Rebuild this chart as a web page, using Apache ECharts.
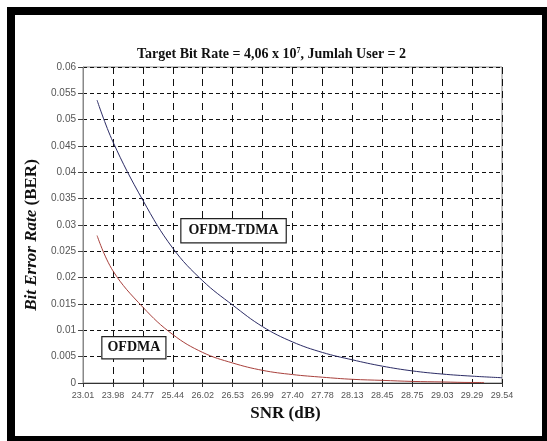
<!DOCTYPE html>
<html>
<head>
<meta charset="utf-8">
<script src="https://cdn.jsdelivr.net/npm/echarts@6/dist/echarts.min.js"></script>
<style>
html,body{margin:0;padding:0;background:#fff;}
#c{width:547px;height:441px;}
</style>
</head>
<body>
<div id="c"></div>
<script>
// Tick labels on the SNR axis (evenly spaced positions 0..14)
var snrLabels = ['23.01','23.98','24.77','25.44','26.02','26.53','26.99','27.40','27.78','28.13','28.45','28.75','29.03','29.29','29.54'];
// Position along the SNR axis (tick index) for each read point
var posOfdmTdma = [0.47, 1, 2, 3, 4, 5, 6, 7, 8, 9, 10, 11, 12, 13, 14];
var berOfdmTdma = [0.0537, 0.0458, 0.0347, 0.0256, 0.0194, 0.0148, 0.0107, 0.0078, 0.0058, 0.0044, 0.0032, 0.0023, 0.0017, 0.0013, 0.0010];
var posOfdma = [0.47, 1, 2, 3, 4, 5, 6, 7, 8, 9, 10, 11, 12, 13, 13.4];
var berOfdma = [0.0280, 0.0213, 0.0144, 0.0092, 0.0058, 0.0038, 0.0024, 0.0016, 0.0011, 0.0007, 0.0005, 0.0003, 0.0002, 0.0001, 0.0001];
// Annotation anchors [position, BER]
var tagOfdmTdma = [5.03, 0.0289];
var tagOfdma = [1.70, 0.0067];

function zip(a, b){ return a.map(function(v, i){ return [v, b[i]]; }); }

var chart = echarts.init(document.getElementById('c'), null, {renderer:'canvas'});
var serif = '"Liberation Serif","Times New Roman",serif';
var sans = '"Liberation Sans",Arial,sans-serif';

var boxLabel = function(text, pad){
  return {
    show: true, position: 'inside', formatter: text,
    fontFamily: serif, fontWeight: 'bold', fontSize: 14, color: '#111',
    backgroundColor: '#fff', borderColor: '#222', borderWidth: 1.2, padding: pad
  };
};

chart.setOption({
  animation: false,
  backgroundColor: 'transparent',
  graphic: [
    {type:'rect', z:-100, silent:true, shape:{x:7, y:7, width:540, height:434}, style:{fill:'#000'}},
    {type:'rect', z:-99, silent:true, shape:{x:15, y:15, width:527, height:421}, style:{fill:'#fff'}}
  ],
  title: {
    text: 'Target Bit Rate = 4,06 x 10{sup|7}, Jumlah User = 2',
    left: 132, top: 42,
    textStyle: {
      fontFamily: serif, fontWeight: 'bold', fontSize: 14, color: '#111',
      rich: { sup: { fontFamily: serif, fontWeight: 'bold', fontSize: 8, color: '#111', verticalAlign: 'top', padding:[0,0,6,0] } }
    }
  },
  grid: { left: 83, right: 45, top: 67, bottom: 58, show: true, borderColor: '#888', borderWidth: 1, backgroundColor: 'transparent' },
  xAxis: {
    type: 'value', min: 0, max: 14, interval: 1,
    name: 'SNR (dB)', nameLocation: 'middle', nameGap: 21,
    nameTextStyle: { fontFamily: serif, fontWeight: 'bold', fontSize: 17, color: '#111', padding:[0,14,0,0] },
    axisLine: { show: true, onZero: false, lineStyle: { color: '#333', width: 1 } },
    axisTick: { show: true, length: 4, lineStyle: { color: '#333' } },
    axisLabel: { margin: 8, fontFamily: sans, fontSize: 9, color: '#555',
      formatter: function(v){ return snrLabels[Math.round(v)] || ''; } },
    splitLine: { show: true, lineStyle: { color: '#111', type: [7,5], width: 1 } }
  },
  yAxis: {
    type: 'value', min: 0, max: 0.06, interval: 0.005,
    name: '{i|Bit Error Rate} (BER)', nameLocation: 'middle', nameGap: 40,
    nameTextStyle: { fontFamily: serif, fontWeight: 'bold', fontSize: 17, color: '#111', padding:[0,20,0,0],
      rich: { i: { fontFamily: serif, fontWeight: 'bold', fontStyle: 'italic', fontSize: 17, color: '#111' } } },
    axisLine: { show: true, lineStyle: { color: '#888', width: 1 } },
    axisTick: { show: true, length: 5, lineStyle: { color: '#444' } },
    axisLabel: { margin: 7, fontFamily: sans, fontSize: 10, color: '#555',
      formatter: function(v){ return String(parseFloat(v.toFixed(3))); } },
    splitLine: { show: true, lineStyle: { color: '#111', type: [4,3], width: 1 } }
  },
  series: [
    {
      name: 'OFDM-TDMA', type: 'line', smooth: 0.4, showSymbol: false,
      data: zip(posOfdmTdma, berOfdmTdma),
      lineStyle: { color: '#2c2c66', width: 1 },
      markPoint: { symbol: 'rect', symbolSize: 0, silent: true,
        data: [{ coord: tagOfdmTdma, label: boxLabel('OFDM-TDMA', [5,7,4,7]) }] }
    },
    {
      name: 'OFDMA', type: 'line', smooth: 0.4, showSymbol: false,
      data: zip(posOfdma, berOfdma),
      lineStyle: { color: '#a8403c', width: 1 },
      markPoint: { symbol: 'rect', symbolSize: 0, silent: true,
        data: [{ coord: tagOfdma, label: boxLabel('OFDMA', [4,5,3,5]) }] }
    }
  ]
});
</script>
</body>
</html>
